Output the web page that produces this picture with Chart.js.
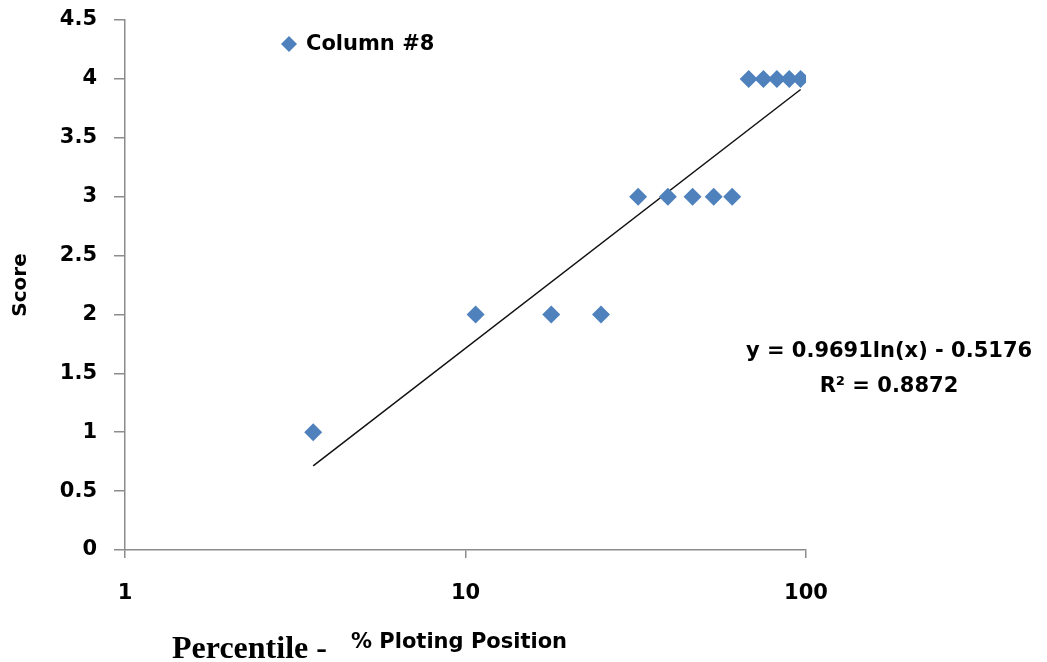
<!DOCTYPE html>
<html>
<head>
<meta charset="utf-8">
<script src="https://cdn.jsdelivr.net/npm/chart.js@4.4.1/dist/chart.umd.min.js"></script>
<style>
  html, body { margin: 0; padding: 0; background: #fff; }
  #wrap { width: 1047px; height: 662px; position: relative; }
</style>
</head>
<body>
<div id="wrap"><canvas id="score-chart"></canvas></div>
<script>
// plotting positions (%) and scores of Column #8
const plotPos = [3.57, 10.71, 17.86, 25, 32.14, 39.29, 46.43, 53.57, 60.71, 67.86, 75, 82.14, 89.29, 96.43];
const scores = [1, 2, 2, 2, 3, 3, 3, 3, 3, 4, 4, 4, 4, 4];
// log trendline ends
const trendX = [3.57, 96.43];
const trendY = [0.715, 3.91];
const xTicks = [1, 10, 100];
const seriesName = "Column #8";
const eqText = "y = 0.9691ln(x) - 0.5176";
const r2Text = "R\u00b2 = 0.8872";

const blue = "#4F81BD";
const axisGrey = "#8c8c8c";
const boldSans = "bold 21px 'DejaVu Sans'";

// legend, trendline label and the two-font x title
const extras = {
    id: "extras",
    afterDraw(chart) {
        const ctx = chart.ctx;
        ctx.save();
        // legend
        const lx = 289, ly = 44, r = 8;
        ctx.fillStyle = blue;
        ctx.beginPath();
        ctx.moveTo(lx, ly - r);
        ctx.lineTo(lx + r, ly);
        ctx.lineTo(lx, ly + r);
        ctx.lineTo(lx - r, ly);
        ctx.closePath();
        ctx.fill();
        ctx.fillStyle = "#000";
        ctx.font = boldSans;
        ctx.textBaseline = "middle";
        ctx.textAlign = "left";
        ctx.fillText(seriesName, 306, ly + 1);

        // equation
        ctx.textAlign = "center";
        ctx.fillText(eqText, 889, 352);
        ctx.fillText(r2Text, 889, 387);

        // x title
        ctx.textAlign = "left";
        ctx.textBaseline = "alphabetic";
        ctx.font = "bold 32px 'Liberation Serif'";
        ctx.fillText("Percentile -", 172, 658);
        ctx.font = boldSans;
        ctx.fillText("% Ploting Position", 351, 648);
        ctx.restore();
    }
};

new Chart(document.getElementById("score-chart"), {
    data: {
        datasets: [
            {
                type: "scatter",
                label: seriesName,
                data: plotPos.map((x, i) => ({ x: x, y: scores[i] })),
                pointStyle: "rectRot",
                pointRadius: 9,
                pointHoverRadius: 9,
                backgroundColor: blue,
                borderColor: blue,
                borderWidth: 0
            },
            {
                type: "line",
                label: "Log. trend",
                data: trendX.map((x, i) => ({ x: x, y: trendY[i] })),
                borderColor: "#111",
                borderWidth: 1.5,
                pointRadius: 0,
                fill: false
            }
        ]
    },
    options: {
        responsive: true,
        maintainAspectRatio: false,
        animation: false,
        layout: { padding: { top: 20, right: 241, left: 0, bottom: 0 } },
        plugins: {
            legend: { display: false },
            tooltip: { enabled: false }
        },
        scales: {
            x: {
                type: "logarithmic",
                min: 1,
                max: 100,
                afterBuildTicks: s => { s.ticks = xTicks.map(v => ({ value: v })); },
                afterFit: s => { s.height = 112; },
                ticks: {
                    color: "#000",
                    font: { family: "DejaVu Sans", size: 21, weight: "bold" },
                    padding: 23,
                    maxRotation: 0,
                    callback: v => String(v)
                },
                grid: { drawOnChartArea: false, drawTicks: true, tickLength: 8, color: axisGrey, lineWidth: 1.5 },
                border: { color: axisGrey, width: 1.5 }
            },
            y: {
                min: 0,
                max: 4.5,
                afterFit: s => { s.width = 125; s.paddingTop = 0; s.paddingBottom = 0; },
                ticks: {
                    stepSize: 0.5,
                    color: "#000",
                    font: { family: "DejaVu Sans", size: 21, weight: "bold" },
                    padding: 17,
                    callback: v => String(v)
                },
                title: {
                    display: true,
                    text: "Score",
                    color: "#000",
                    font: { family: "DejaVu Sans", size: 20, weight: "bold" },
                    padding: { top: 9, bottom: 0 }
                },
                grid: { drawOnChartArea: false, drawTicks: true, tickLength: 11, color: axisGrey, lineWidth: 1.5 },
                border: { color: axisGrey, width: 1.5 }
            }
        }
    },
    plugins: [extras]
});
</script>
</body>
</html>
